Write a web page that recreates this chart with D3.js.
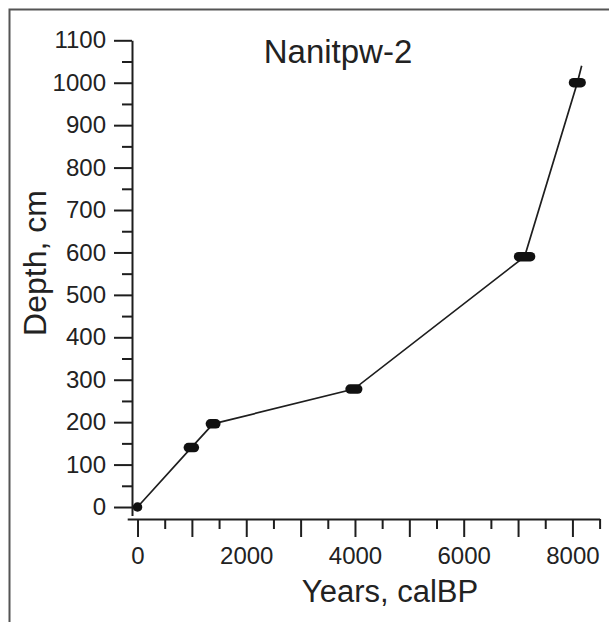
<!DOCTYPE html>
<html>
<head>
<meta charset="utf-8">
<script src="https://cdn.jsdelivr.net/npm/d3@7/dist/d3.min.js"></script>
<style>
  html, body { margin: 0; padding: 0; background: #fff; }
  svg { display: block; }
  text { font-family: "Liberation Sans", Arial, sans-serif; fill: #222; }
</style>
</head>
<body>
<script>
// Radiocarbon dates for the Nanitpw-2 core: calibrated age (cal yr BP) and depth (cm)
const dateAges   = [0, 990, 1390, 3980, 7120, 8090];
const dateDepths = [0, 140, 196, 278, 590, 1000];
// calibrated age ranges of each date
const ageLow     = [0, 935, 1340, 3910, 7010, 8020];
const ageHigh    = [0, 1045, 1440, 4050, 7230, 8160];

// age-depth model line (runs a little beyond the deepest date)
const modelAges   = [0, 990, 1390, 3980, 7120, 8090, 8170];
const modelDepths = [0, 140, 196, 278, 590, 1000, 1040];

const yMajorTicks = d3.range(0, 1101, 100);
const yMinorTicks = d3.range(50, 1100, 100);
const xMajorTicks = d3.range(0, 8001, 1000);
const xMinorTicks = d3.range(500, 8501, 1000);
const xLabelTicks = [0, 2000, 4000, 6000, 8000];

const titleText = "Nanitpw-2";
const xTitle = "Years, calBP";
const yTitle = "Depth, cm";

const W = 609, H = 622;
const ink = "#1e1e1e";

const svg = d3.select("body").append("svg")
  .attr("width", W).attr("height", H);

// outer frame (left and top edges)
svg.append("path")
  .attr("d", `M9.5,${H} V9.5 H${W}`)
  .attr("fill", "none")
  .attr("stroke", "#555")
  .attr("stroke-width", 2);

const x = d3.scaleLinear().domain([-190, 8500]).range([127.2, 599.6]);
const y = d3.scaleLinear().domain([-20, 1100]).range([515.5, 40.3]);

const yAxisX = 132;
const xAxisY = 519;

// y axis: major ticks with labels, minor ticks without
const gy = svg.append("g").attr("transform", `translate(${yAxisX},0)`);
gy.call(d3.axisLeft(y).tickValues(yMajorTicks).tickSize(18).tickSizeOuter(0).tickPadding(8).tickFormat(d3.format("d")));
gy.append("g").call(d3.axisLeft(y).tickValues(yMinorTicks).tickSize(10).tickFormat(""))
  .select(".domain").remove();

// x axis
const gx = svg.append("g").attr("transform", `translate(0,${xAxisY})`);
gx.call(d3.axisBottom(x).tickValues(xMajorTicks).tickSize(18).tickSizeOuter(0).tickPadding(10)
  .tickFormat(d => xLabelTicks.includes(d) ? d3.format("d")(d) : ""));
gx.append("g").call(d3.axisBottom(x).tickValues(xMinorTicks).tickSize(10).tickFormat(""))
  .select(".domain").remove();

svg.selectAll(".domain, .tick line")
  .attr("stroke", ink).attr("stroke-width", 2);
svg.selectAll(".tick text")
  .attr("font-family", "Liberation Sans, Arial, sans-serif")
  .attr("font-size", 24)
  .attr("fill", ink);

// age-depth model
const modelPts = modelAges.map((a, i) => [a, modelDepths[i]]);
svg.append("path")
  .datum(modelPts)
  .attr("d", d3.line().x(d => x(d[0])).y(d => y(d[1])))
  .attr("fill", "none")
  .attr("stroke", ink)
  .attr("stroke-width", 1.7);

// dated levels drawn as rounded bars spanning the calibrated range
svg.append("g").selectAll("line")
  .data(dateAges.map((a, i) => ({ age: a, depth: dateDepths[i], lo: ageLow[i], hi: ageHigh[i] })))
  .join("line")
  .attr("x1", d => x(d.lo)).attr("x2", d => x(d.hi) + 0.01)
  .attr("y1", d => y(d.depth)).attr("y2", d => y(d.depth))
  .attr("stroke", "#111")
  .attr("stroke-width", 9.5)
  .attr("stroke-linecap", "round");

// titles
svg.append("text")
  .attr("x", 338).attr("y", 63)
  .attr("text-anchor", "middle")
  .attr("font-size", 33)
  .attr("fill", ink)
  .text(titleText);

svg.append("text")
  .attr("x", 390).attr("y", 602)
  .attr("text-anchor", "middle")
  .attr("font-size", 31)
  .attr("fill", ink)
  .text(xTitle);

svg.append("text")
  .attr("transform", "translate(46,263) rotate(-90)")
  .attr("text-anchor", "middle")
  .attr("font-size", 32)
  .attr("fill", ink)
  .text(yTitle);
</script>
</body>
</html>
